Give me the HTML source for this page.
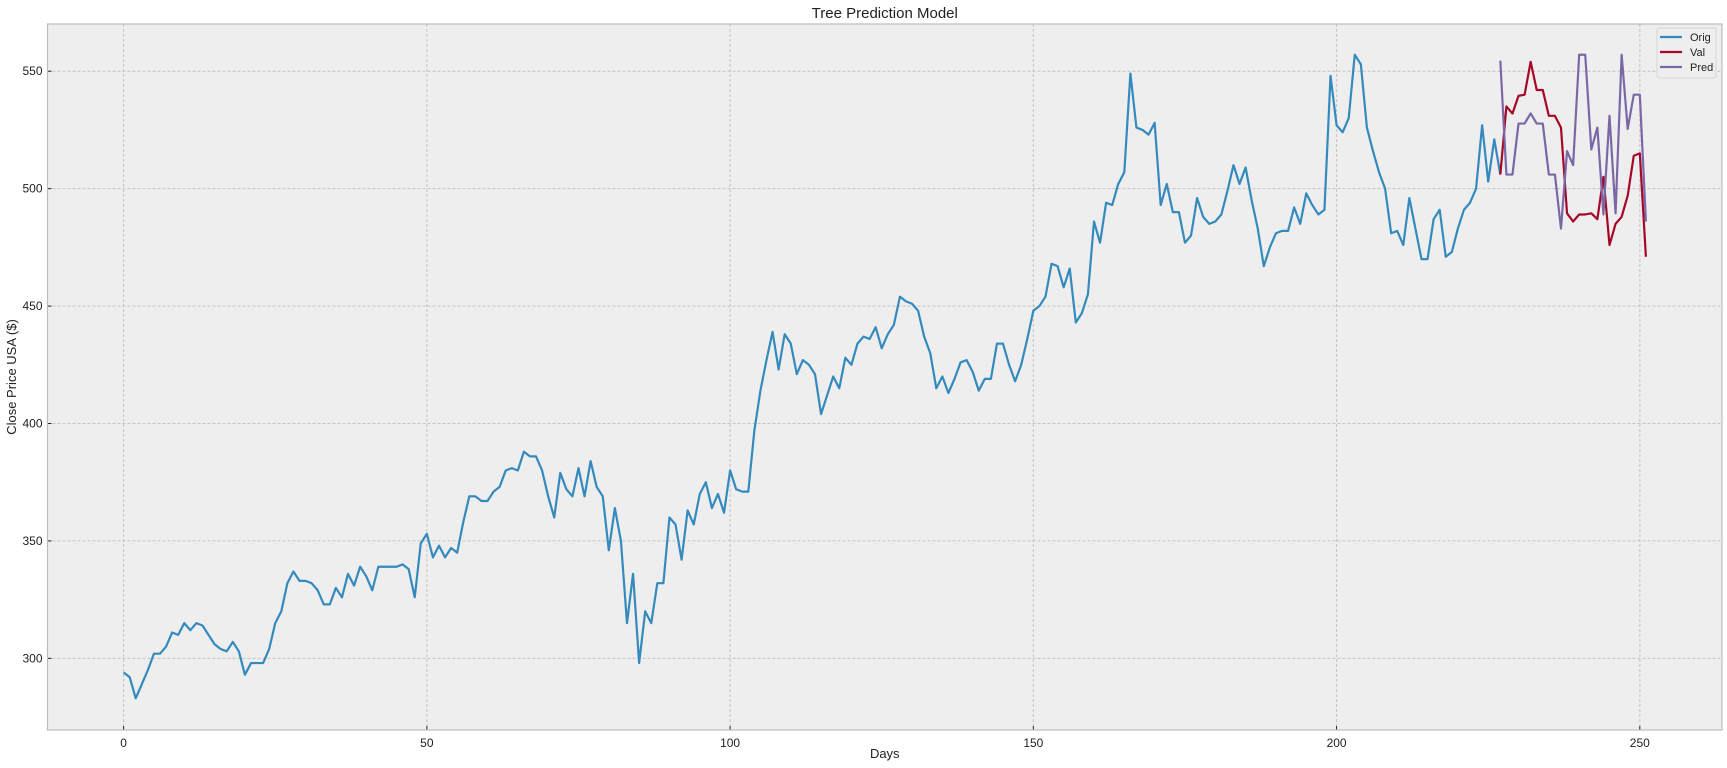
<!DOCTYPE html>
<html><head><meta charset="utf-8"><style>
html,body{margin:0;padding:0;background:#fff;}
svg{display:block;font-family:"Liberation Sans","DejaVu Sans",sans-serif;}
</style></head><body>
<svg id="chart" width="1727" height="768" viewBox="0 0 1727 768" xmlns="http://www.w3.org/2000/svg"></svg>
<script>
const xTicks=[0,50,100,150,200,250];
const yTicks=[300,350,400,450,500,550];
const origValues=[294,292,283,289,295,302,302,305,311,310,315,312,315,314,310,306,304,303,307,303,293,298,298,298,304,315,320,332,337,333,333,332,329,323,323,330,326,336,331,339,335,329,339,339,339,339,340,338,326,349,353,343,348,343,347,345,358,369,369,367,367,371,373,380,381,380,388,386,386,380,369,360,379,372,369,381,369,384,373,369,346,364,350,315,336,298,320,315,332,332,360,357,342,363,357,370,375,364,370,362,380,372,371,371,397,414,427,439,423,438,434,421,427,425,421,404,412,420,415,428,425,434,437,436,441,432,438,442,454,452,451,448,437,430,415,420,413,419,426,427,422,414,419,419,434,434,425,418,425,436,448,450,454,468,467,458,466,443,447,455,486,477,494,493,502,507,549,526,525,523,528,493,502,490,490,477,480,496,488,485,486,489,499,510,502,509,495,483,467,475,481,482,482,492,485,498,493,489,491,548,527,524,530,557,553,526,516,507,500,481,482,476,496,483,470,470,487,491,471,473,483,491,494,500,527,503,521,506];
const valStart=227;
const valValues=[506,535,532,539.5,540,554,542,542,531,531,526,489.5,486,489,489,489.5,487,505,476,485,488,497,514,515,471];
const predValues=[554.5,506,506,527.7,527.7,532,527.7,527.7,506,506,483,516,510,557,557,516.7,526,489,531,489.5,557,525.4,540,540,486];

const L=47.5,R=1722,T=24,B=730;
const xMin=-12.55,xMax=263.55,yMin=269.5,yMax=570.1;
const sx=v=>L+(v-xMin)/(xMax-xMin)*(R-L);
const sy=v=>B-(v-yMin)/(yMax-yMin)*(B-T);
const NS="http://www.w3.org/2000/svg";
const svg=document.getElementById('chart');
function mk(tag,attrs,parent){const e=document.createElementNS(NS,tag);for(const k in attrs)e.setAttribute(k,attrs[k]);(parent||svg).appendChild(e);return e;}

const bg=mk('rect',{x:L,y:T,width:R-L,height:B-T,fill:'#eeeeee'});



xTicks.forEach(t=>{
  const g=mk('line',{x1:sx(t),x2:sx(t),y1:T,y2:B,stroke:'#c4c4c4','stroke-width':1,'stroke-dasharray':'3,2'});
  
  
  const tk=mk('line',{x1:sx(t),x2:sx(t),y1:B,y2:B-4,stroke:'#222','stroke-width':1});
  
  
  const lb=mk('text',{x:sx(t),y:B+17,'font-size':12,'text-anchor':'middle',fill:'#222'});
  lb.textContent=t;
  
  
});
yTicks.forEach(t=>{
  const g=mk('line',{x1:L,x2:R,y1:sy(t),y2:sy(t),stroke:'#c4c4c4','stroke-width':1,'stroke-dasharray':'3,2'});
  
  
  const tk=mk('line',{x1:L,x2:L+4,y1:sy(t),y2:sy(t),stroke:'#222','stroke-width':1});
  
  
  const lb=mk('text',{x:L-5,y:sy(t)+4,'font-size':12,'text-anchor':'end',fill:'#222'});
  lb.textContent=t;
  
  
});
const frame=mk('rect',{x:L,y:T,width:R-L,height:B-T,fill:'none',stroke:'#bcbcbc','stroke-width':1.2});



function series(vals,start,color,name){
  const d=vals.map((v,i)=>(i?'L':'M')+sx(start+i).toFixed(2)+','+sy(v).toFixed(2)).join(' ');
  const p=mk('path',{d:d,fill:'none',stroke:color,'stroke-width':2.2,'stroke-linejoin':'round'});
  
  
}
series(origValues,0,'#348ABD','orig-line');
series(valValues,valStart,'#A60628','val-line');
series(predValues,valStart,'#7A68A6','pred-line');

const title=mk('text',{x:(L+R)/2,y:18,'font-size':15,'text-anchor':'middle',fill:'#222'});
title.textContent='Tree Prediction Model';


const xl=mk('text',{x:(L+R)/2,y:758,'font-size':13,'text-anchor':'middle',fill:'#222'});
xl.textContent='Days';


const yl=mk('text',{x:0,y:0,'font-size':13,'text-anchor':'middle',fill:'#222',transform:'translate(16,'+((T+B)/2)+') rotate(-90)'});
yl.textContent='Close Price USA ($)';



const lg=mk('g',{});


mk('rect',{x:1657,y:28,width:59,height:50,rx:2,fill:'#eeeeee',stroke:'#d6d6d6','stroke-width':1},lg);
[['Orig','#348ABD'],['Val','#A60628'],['Pred','#7A68A6']].forEach((e,i)=>{
  const y=37+i*15;
  const ln=mk('line',{x1:1660,x2:1682,y1:y,y2:y,stroke:e[1],'stroke-width':2.2},lg);
  
  
  const t=mk('text',{x:1690,y:y+4,'font-size':11,fill:'#222'},lg);
  t.textContent=e[0];
  
  
});
</script>
</body></html>
